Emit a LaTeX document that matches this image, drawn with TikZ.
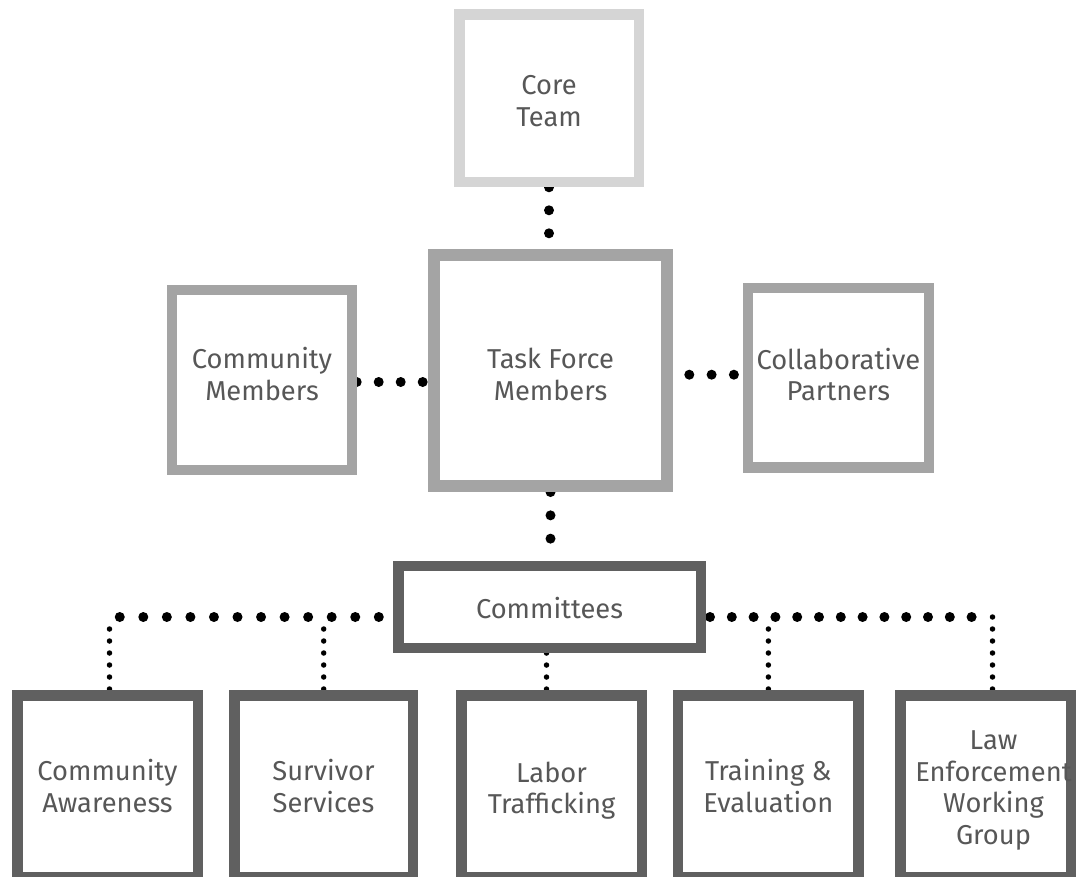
\documentclass[tikz,border=0pt]{standalone}
\usepackage{fontspec}
\setmainfont{Fira Sans}
\usetikzlibrary{backgrounds}
\definecolor{lightb}{HTML}{D5D5D5}
\definecolor{midb}{HTML}{A4A4A4}
\definecolor{darkb}{HTML}{606060}
\definecolor{txt}{HTML}{575757}
\begin{document}
\begin{tikzpicture}[x=1pt,y=-1pt,
  box/.style={draw, fill=white, rectangle, inner sep=0pt},
  boxtext/.style={text=txt, align=center, inner sep=0pt, font=\fontsize{27.3}{31.5}\selectfont},
  bigdots/.style={line width=10pt, line cap=round, dash pattern=on 0pt off #1},
  bigdots/.default=23pt,
  smalldots/.style={line width=5.5pt, line cap=round, dash pattern=on 0pt off 12pt},
]
\clip (0,0) rectangle (1076,877);

% bus coordinates
\coordinate (x1) at (109.5,617);
\coordinate (x2) at (323.7,617);
\coordinate (x3) at (546.5,617);
\coordinate (x4) at (768.4,617);
\coordinate (x5) at (992.5,617);

\path
 node[box, draw=lightb, line width=10.5pt, minimum width=179.5pt, minimum height=167.5pt,
   label={[boxtext, name=coret, yshift=-3pt]center:Core\\Team}] (core) at (549,98.3) {}
 node[box, draw=midb, line width=12pt, minimum width=233pt, minimum height=230.7pt,
   label={[boxtext, name=taskt, yshift=-3.5pt]center:Task Force\\Members}] (task) at (550.5,370.7) {}
 node[box, draw=midb, line width=10pt, minimum width=179.4pt, minimum height=180pt,
   label={[boxtext, name=cmt, yshift=6pt]center:Community\\Members}] (cm) at (262,380) {}
 node[box, draw=midb, line width=10.5pt, minimum width=180.8pt, minimum height=179.5pt,
   label={[boxtext, name=cpt, yshift=3pt]center:Collaborative\\Partners}] (cp) at (838.4,377.7) {}
 node[box, draw=darkb, line width=10.5pt, minimum width=302.5pt, minimum height=81.8pt,
   label={[boxtext, name=comt, yshift=-1pt]center:Committees}] (com) at (549.5,606.9) {}
 node[box, draw=darkb, line width=10.5pt, minimum width=180.5pt, minimum height=181.5pt,
   label={[boxtext, name=cat]center:Community\\Awareness}] (ca) at (107.5,786) {}
 node[box, draw=darkb, line width=10.5pt, minimum width=178.5pt, minimum height=181.5pt,
   label={[boxtext, name=sst]center:Survivor\\Services}] (ss) at (323.5,786) {}
 node[box, draw=darkb, line width=10.5pt, minimum width=180.5pt, minimum height=181.5pt,
   label={[boxtext, name=ltt, yshift=-4.5pt]center:Labor\\Trafficking}] (lt) at (551.5,786) {}
 node[box, draw=darkb, line width=10.5pt, minimum width=180.5pt, minimum height=181.5pt,
   label={[boxtext, name=tet]center:Training \&\\Evaluation}] (te) at (768.3,786) {}
 node[box, draw=darkb, line width=10.5pt, minimum width=170.5pt, minimum height=181.5pt,
   label={[boxtext, name=let, xshift=8pt, yshift=-4.5pt]center:Law\\Enforcement\\Working\\Group}] (le) at (985.5,786) {};

% connectors (behind the boxes)
\begin{scope}[on background layer]
\fill[white] (0,0) rectangle (1076,877);
\draw[bigdots] (core.south) -- (core.south |- task.north);
\draw[bigdots=23.3pt] (task.south) -- (task.south |- com.north);
\draw[bigdots=22pt] ([yshift=-2pt]cm.east) -- ([yshift=-2pt]cm.east -| task.west);
\draw[bigdots=22.3pt, dash phase=6pt] ([yshift=-4pt]task.east) -- ([yshift=-4pt]task.east -| cp.west);
\draw[bigdots=23.55pt] ([xshift=-14.2pt]com.west |- x1) -- ([xshift=10pt]x1);
\draw[bigdots=21.8pt] ([xshift=4pt]com.east |- x5) -- ([xshift=-3pt]x5);
\draw[smalldots] ([yshift=-12pt]x1) -- (x1 |- ca.north);
\draw[smalldots] ([yshift=-12pt]x2) -- (x2 |- ss.north);
\draw[smalldots] (com.south -| x3) -- (x3 |- lt.north);
\draw[smalldots] ([yshift=-12pt]x4) -- (x4 |- te.north);
\draw[smalldots] (x5) -- (x5 |- le.north);
\end{scope}
\end{tikzpicture}
\end{document}
